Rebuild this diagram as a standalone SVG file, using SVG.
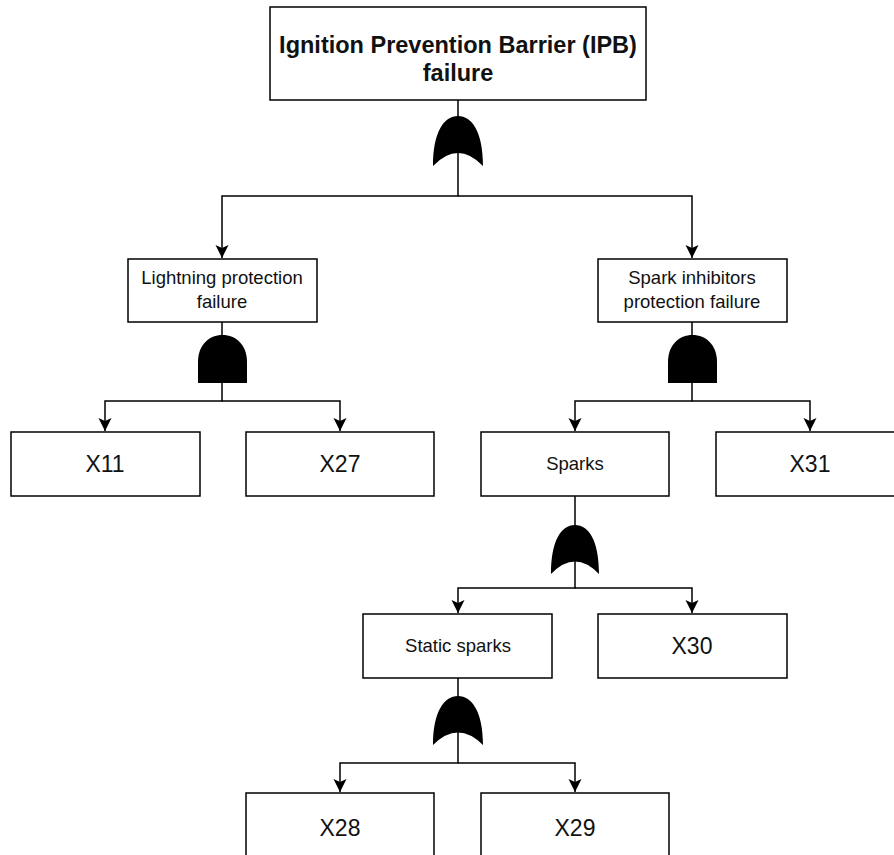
<svg xmlns="http://www.w3.org/2000/svg" width="894" height="855" viewBox="0 0 894 855">
<defs>
<style>
.box{fill:#fff;stroke:#000;stroke-width:1.5}
.t{font-family:"Liberation Sans",Arial,sans-serif;fill:#111;text-anchor:middle}
.title{font-size:23.5px;font-weight:bold}
.lbl{font-size:18.5px}
.x{font-size:23px}
.c{fill:none;stroke:#000;stroke-width:1.5}
.gate{fill:#000;stroke:none}
</style>
<marker id="arr" markerWidth="14" markerHeight="14" viewBox="0 0 14 14" refX="13" refY="7" orient="auto" markerUnits="userSpaceOnUse">
<path d="M0,0.5 L13,7 L0,13.5 L3,7 Z" fill="#000"/>
</marker>
</defs>
<rect width="894" height="855" fill="#fff"/>
<g id="connectors">
<path class="c" d="M458,100 V196 H222 V258" marker-end="url(#arr)"/>
<path class="c" d="M458,196 H692 V258" marker-end="url(#arr)"/>
<path class="c" d="M222,322 V401 H105 V431" marker-end="url(#arr)"/>
<path class="c" d="M222,401 H340 V431" marker-end="url(#arr)"/>
<path class="c" d="M692,322 V401 H575 V431" marker-end="url(#arr)"/>
<path class="c" d="M692,401 H810 V431" marker-end="url(#arr)"/>
<path class="c" d="M575,496 V588 H458 V613" marker-end="url(#arr)"/>
<path class="c" d="M575,588 H692 V613" marker-end="url(#arr)"/>
<path class="c" d="M458,678 V763 H340 V792" marker-end="url(#arr)"/>
<path class="c" d="M458,763 H575 V792" marker-end="url(#arr)"/>
</g>
<g id="gate-top"><path class="gate" d="M433,166 C433,132 444,116 458,116 C472,116 483,132 483,166 Q458,140 433,166 Z"/></g>
<g id="gate-lightning"><path class="gate" d="M198,383 L198,362 C198,345 209,335 222.5,335 C236,335 247,345 247,362 L247,383 Z"/></g>
<g id="gate-spark-inhibitors"><path class="gate" d="M668,383 L668,362 C668,345 679,335 692.5,335 C706,335 717,345 717,362 L717,383 Z"/></g>
<g id="gate-sparks"><path class="gate" d="M551,574 C551,541 561,525 575,525 C589,525 599,541 599,574 Q575,549 551,574 Z"/></g>
<g id="gate-static"><path class="gate" d="M433,745 C433,712 444,696 458,696 C472,696 483,712 483,745 Q458,720 433,745 Z"/></g>
<g id="node-ipb">
<rect class="box" x="270" y="7" width="376" height="93"/>
<text class="t title" x="458" y="53">Ignition Prevention Barrier (IPB)</text>
<text class="t title" x="458" y="81">failure</text>
</g>
<g id="node-lightning">
<rect class="box" x="128" y="259" width="189" height="63"/>
<text class="t lbl" x="222" y="284">Lightning protection</text>
<text class="t lbl" x="222" y="308">failure</text>
</g>
<g id="node-spark-inhibitors">
<rect class="box" x="598" y="259" width="189" height="63"/>
<text class="t lbl" x="692" y="284">Spark inhibitors</text>
<text class="t lbl" x="692" y="308">protection failure</text>
</g>
<g id="node-x11">
<rect class="box" x="11" y="432" width="189" height="64"/>
<text class="t x" x="105" y="472">X11</text>
</g>
<g id="node-x27">
<rect class="box" x="246" y="432" width="188" height="64"/>
<text class="t x" x="340" y="472">X27</text>
</g>
<g id="node-sparks">
<rect class="box" x="481" y="432" width="188" height="64"/>
<text class="t lbl" x="575" y="470">Sparks</text>
</g>
<g id="node-x31">
<rect class="box" x="716" y="432" width="188" height="64"/>
<text class="t x" x="810" y="472">X31</text>
</g>
<g id="node-static">
<rect class="box" x="363" y="614" width="189" height="64"/>
<text class="t lbl" x="458" y="652">Static sparks</text>
</g>
<g id="node-x30">
<rect class="box" x="598" y="614" width="189" height="64"/>
<text class="t x" x="692" y="654">X30</text>
</g>
<g id="node-x28">
<rect class="box" x="246" y="793" width="188" height="70"/>
<text class="t x" x="340" y="836">X28</text>
</g>
<g id="node-x29">
<rect class="box" x="481" y="793" width="188" height="70"/>
<text class="t x" x="575" y="836">X29</text>
</g>
</svg>
